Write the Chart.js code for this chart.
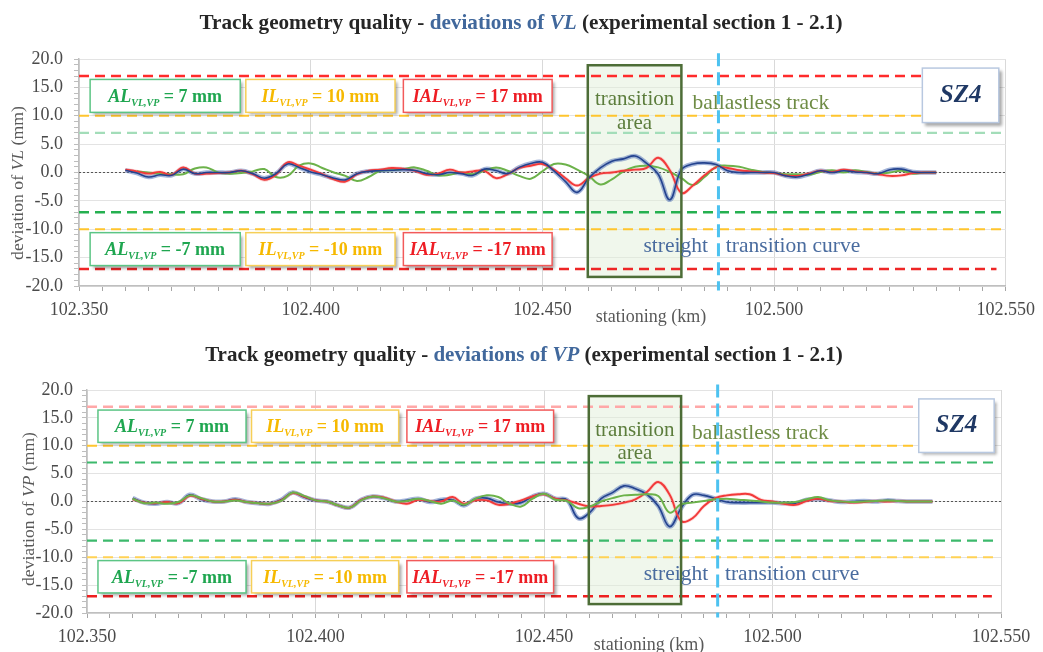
<!DOCTYPE html>
<html>
<head>
<meta charset="utf-8">
<title>Track geometry quality</title>
<script src="https://cdn.jsdelivr.net/npm/chart.js@4.4.1/dist/chart.umd.min.js"></script>
<style>
html,body{margin:0;padding:0;background:#ffffff;overflow:hidden;}
#wrap{position:relative;width:1043px;height:652px;background:#fff;}
#wrap canvas{position:absolute;left:0;}
#vl{top:0;}
#vp{top:330px;}
</style>
</head>
<body>
<div id="wrap">
<canvas id="vl" width="1043" height="330"></canvas>
<canvas id="vp" width="1043" height="322"></canvas>
</div>
<script>
// ---------------- DATA ----------------
const stationing = [
 102.3600,102.3625,102.3650,102.3675,102.3700,102.3725,102.3750,102.3775,102.3800,102.3825,
 102.3850,102.3875,102.3900,102.3925,102.3950,102.3975,102.4000,102.4025,102.4050,102.4075,
 102.4100,102.4125,102.4150,102.4175,102.4200,102.4225,102.4250,102.4275,102.4300,102.4325,
 102.4350,102.4375,102.4400,102.4425,102.4450,102.4475,102.4500,102.4525,102.4550,102.4575,
 102.4600,102.4625,102.4650,102.4675,102.4700,102.4725,102.4750,102.4775,102.4800,102.4825,
 102.4850,102.4875,102.4900,102.4925,102.4950,102.4975,102.5000,102.5025,102.5050,102.5075,
 102.5100,102.5125,102.5150,102.5175,102.5200,102.5225,102.5250,102.5275,102.5300,102.5325,
 102.5350];

// deviations of VL (mm)
const vlBlue = [
 0.4,-0.1,-0.8,-0.4,-0.5,0.6,-0.2,0.0,0.0,0.0,
 0.3,-0.2,-1.0,-0.2,1.5,0.9,0.1,-0.4,-1.0,-1.3,
 -0.2,0.2,0.3,0.4,0.5,0.35,-0.2,-0.4,0.0,-0.2,
 -0.5,0.6,0.35,-0.2,0.9,1.6,1.8,0.3,-1.6,-3.5,
 -1.0,0.8,2.0,2.4,2.9,1.6,-0.3,-4.8,0.5,1.5,
 1.7,1.4,0.3,0.0,0.0,0.0,0.0,-0.6,-0.8,-0.3,
 0.3,0.0,0.3,0.1,0.0,-0.2,0.5,0.6,0.1,0.0,
 0.0];
const vlRed = [
 0.5,0.2,-0.2,0.1,-0.4,0.9,-0.2,-0.2,-0.1,0.0,
 0.3,-0.3,-1.3,-0.4,1.8,1.2,0.5,-0.3,-1.2,-1.6,
 -0.3,0.3,0.5,0.8,0.65,0.3,-0.4,-0.2,0.5,0.0,
 0.2,0.3,-1.0,-0.3,0.8,1.2,1.5,0.5,-1.0,-2.3,
 -1.0,-0.2,0.0,0.3,0.5,0.8,2.6,0.4,-3.6,-2.3,
 -0.5,0.9,0.8,0.4,0.2,0.0,-0.1,-0.5,-0.6,-0.2,
 0.3,0.1,0.5,0.2,0.0,-0.3,-0.6,-0.5,-0.1,0.0,
 0.0];
const vlGreen = [
 null,0.2,0.0,-0.2,-0.3,-0.3,0.7,0.9,0.0,-0.2,
 -0.1,0.2,0.6,-0.8,-0.6,1.2,1.6,0.8,0.0,-0.6,
 -1.5,-0.8,0.3,0.4,0.6,0.9,0.3,-0.5,-0.4,0.0,
 -0.3,0.3,0.9,0.3,-0.6,-1.1,0.2,1.5,1.4,0.5,
 -0.6,-2.1,-1.2,0.2,1.0,1.2,0.9,0.1,-1.0,-2.2,
 -0.8,1.0,1.2,1.0,0.5,0.1,-0.1,-0.3,-0.3,-0.4,
 0.1,0.4,0.0,0.4,0.1,-0.2,0.0,0.3,-0.2,0.0,
 0.0];

// deviations of VP (mm)
const vpBlue = [
 0.6,-0.2,-0.4,-0.1,-0.3,1.2,0.4,0.0,0.0,0.4,
 -0.1,-0.3,-0.4,0.3,1.6,0.8,0.2,0.0,-0.7,-1.1,
 0.3,0.9,0.6,0.0,0.2,0.5,-0.1,0.3,0.3,-0.7,
 0.5,0.6,-0.1,-0.4,-0.2,0.9,1.4,0.5,0.3,-3.0,
 -2.0,0.5,1.6,2.8,2.3,1.3,-0.8,-4.5,-1.2,1.2,
 1.1,0.5,-0.1,-0.2,-0.2,-0.2,-0.2,-0.3,-0.3,0.3,
 0.4,0.2,-0.1,0.0,0.1,0.0,0.2,0.1,0.0,0.0,
 0.0];
const vpRed = [
 0.4,-0.2,-0.3,-0.1,-0.3,1.0,0.5,0.0,0.0,0.3,
 -0.1,-0.3,-0.4,0.2,1.5,0.9,0.2,0.0,-0.7,-1.1,
 0.3,0.9,0.7,0.0,-0.4,0.3,0.1,0.0,0.8,-0.4,
 0.2,0.2,-0.6,-0.4,0.2,0.9,1.3,0.5,0.2,-0.4,
 -0.9,-0.8,-0.6,-0.2,0.4,1.7,3.5,1.2,-3.5,-3.0,
 -0.8,0.6,1.1,1.3,1.3,0.3,0.0,-0.4,-0.6,0.1,
 0.5,0.1,0.0,-0.2,-0.1,0.1,0.0,0.1,0.0,0.0,
 0.0];
const vpGreen = [
 0.5,-0.3,-0.2,-0.4,-0.1,1.1,0.6,0.0,0.0,0.2,
 -0.1,-0.3,-0.4,0.1,1.6,1.0,0.2,0.0,-0.7,-1.1,
 0.2,0.9,0.6,0.0,0.1,0.5,0.1,-0.4,0.2,-0.6,
 0.5,1.1,0.8,-0.4,-0.9,0.5,1.4,0.3,0.1,-1.2,
 -0.9,0.0,0.6,1.1,1.2,1.3,1.0,-2.0,-0.5,-0.2,
 0.1,0.4,0.5,0.3,0.2,0.0,-0.2,-0.2,-0.1,0.4,
 0.8,0.2,0.0,-0.1,0.0,0.1,0.2,0.1,0.0,0.0,
 0.0];

// limits (mm)
const limitNames = ['AL', 'IL', 'IAL'];
const limitValues = [7, 10, 17];
const limitLines = [17, 10, 7, -7, -10, -17];
const xTickRange = [102.350, 102.550];
const yTickRange = [-20, 20];
const transitionArea = [102.4598, 102.4800];
const transitionAreaY = [18.9, -18.4];
const curveStart = 102.488;
const curveLineY = [21.0, -20.8];

// ---------------- DRAWING ----------------
const SERIF = '"Liberation Serif", "DejaVu Serif", serif';

function setFont(ctx, p, k) {
  ctx.font = (p.style || 'normal') + ' ' + (p.size * k).toFixed(2) + 'px ' + SERIF;
}
function drawRich(ctx, parts, x, y, align, baseline, targetWidth) {
  let k = 1;
  const measure = () => { let w = 0; parts.forEach(p => { setFont(ctx, p, k); w += ctx.measureText(p.t).width; }); return w; };
  let total = measure();
  if (targetWidth) { k = targetWidth / total; total = measure(); }
  let cx = align === 'center' ? x - total / 2 : (align === 'right' ? x - total : x);
  ctx.textAlign = 'left';
  ctx.textBaseline = baseline || 'alphabetic';
  parts.forEach(p => {
    setFont(ctx, p, k);
    ctx.fillStyle = p.color;
    ctx.fillText(p.t, cx, y + (p.dy || 0) * k);
    cx += ctx.measureText(p.t).width;
  });
}

const boxStyles = [
  {border: '#5cc585', text: '#1fa650'},
  {border: '#f6cf58', text: '#f6b900'},
  {border: '#f25a5a', text: '#ee1d24'}
];
const boxX = [[102.3524, 102.3848], [102.3860, 102.4182], [102.4200, 102.4521]];
const boxRows = [[16.4, 10.6], [-10.6, -16.4]];
const sz4Box = [102.5320, 102.5485, 18.4, 8.8];

const decorConfigs = {};

function shadowBox(ctx, l, t, w, h, border, lw) {
  ctx.save();
  ctx.shadowColor = 'rgba(0,0,0,0.35)';
  ctx.shadowBlur = 3;
  ctx.shadowOffsetX = 3;
  ctx.shadowOffsetY = 3;
  ctx.fillStyle = '#ffffff';
  ctx.fillRect(l, t, w, h);
  ctx.restore();
  ctx.save();
  ctx.strokeStyle = border;
  ctx.lineWidth = lw;
  ctx.strokeRect(l, t, w, h);
  ctx.restore();
}

const decorPlugin = {
  id: 'decor',
  beforeDatasetsDraw(chart) {
    const ctx = chart.ctx, xs = chart.scales.x, ys = chart.scales.y;
    const l = xs.getPixelForValue(transitionArea[0]), r = xs.getPixelForValue(transitionArea[1]);
    const t = ys.getPixelForValue(transitionAreaY[0]), b = ys.getPixelForValue(transitionAreaY[1]);
    ctx.save();
    ctx.fillStyle = 'rgba(226,240,217,0.5)';
    ctx.fillRect(l, t, r - l, b - t);
    ctx.restore();
  },
  afterDatasetsDraw(chart) {
    const ctx = chart.ctx, xs = chart.scales.x, ys = chart.scales.y;
    const l = xs.getPixelForValue(transitionArea[0]), r = xs.getPixelForValue(transitionArea[1]);
    const t = ys.getPixelForValue(transitionAreaY[0]), b = ys.getPixelForValue(transitionAreaY[1]);
    ctx.save();
    ctx.strokeStyle = '#4d6d37';
    ctx.lineWidth = 2.5;
    ctx.strokeRect(l, t, r - l, b - t);
    ctx.restore();

    boxRows.forEach((row, ri) => {
      const sign = ri === 0 ? '' : '-';
      const top = ys.getPixelForValue(row[0]), bot = ys.getPixelForValue(row[1]);
      boxX.forEach((bx, bi) => {
        const bl = xs.getPixelForValue(bx[0]), br = xs.getPixelForValue(bx[1]);
        const st = boxStyles[bi];
        shadowBox(ctx, bl, top, br - bl, bot - top, st.border, 1.5);
        drawRich(ctx, [
          {t: limitNames[bi], style: 'italic bold', size: 18, color: st.text},
          {t: 'VL,VP', style: 'italic bold', size: 10, color: st.text, dy: 4},
          {t: ' = ' + sign + limitValues[bi] + ' mm', style: 'bold', size: 18, color: st.text}
        ], (bl + br) / 2, (top + bot) / 2 + 6, 'center');
      });
    });

    const sl = xs.getPixelForValue(sz4Box[0]), sr = xs.getPixelForValue(sz4Box[1]);
    const stp = ys.getPixelForValue(sz4Box[2]), sb = ys.getPixelForValue(sz4Box[3]);
    shadowBox(ctx, sl, stp, sr - sl, sb - stp, '#b8c8e0', 1.5);
    drawRich(ctx, [{t: 'SZ4', style: 'italic bold', size: 25, color: '#1f3864'}],
      (sl + sr) / 2, (stp + sb) / 2, 'center', 'middle');

    const green = '#5c7d3c', steel = '#4a6c9f';
    const cx = xs.getPixelForValue((transitionArea[0] + transitionArea[1]) / 2);
    drawRich(ctx, [{t: 'transition', size: 21, color: green}], cx, ys.getPixelForValue(12.8), 'center', 'middle');
    drawRich(ctx, [{t: 'area', size: 21, color: green}], cx, ys.getPixelForValue(8.7), 'center', 'middle');
    drawRich(ctx, [{t: 'ballastless track', size: 21.5, color: '#6f8c45'}], xs.getPixelForValue(102.4824), ys.getPixelForValue(12.2), 'left', 'middle');
    drawRich(ctx, [{t: 'streight', size: 21.5, color: steel}], xs.getPixelForValue(102.4718), ys.getPixelForValue(-13.0), 'left', 'middle');
    drawRich(ctx, [{t: 'transition curve', size: 21.5, color: steel}], xs.getPixelForValue(102.4896), ys.getPixelForValue(-13.0), 'left', 'middle');
  },
  afterDraw(chart) {
    const d = decorConfigs[chart.canvas.id];
    const ctx = chart.ctx;
    drawRich(ctx, [
      {t: 'Track geometry quality - ', style: 'bold', size: 18, color: '#262626'},
      {t: 'deviations of ', style: 'bold', size: 18, color: '#41689c'},
      {t: d.quantity, style: 'italic bold', size: 18, color: '#41689c'},
      {t: ' (experimental section 1 - 2.1)', style: 'bold', size: 18, color: '#262626'}
    ], d.titleX, d.titleY, 'center', 'alphabetic', d.titleW);
    ctx.save();
    ctx.translate(d.yTitleX, d.yTitleY);
    ctx.rotate(-Math.PI / 2);
    drawRich(ctx, [
      {t: 'deviation of ', size: 17, color: '#595959'},
      {t: d.quantity, style: 'italic', size: 17, color: '#595959'},
      {t: ' (mm)', size: 17, color: '#595959'}
    ], 0, 0, 'center', 'middle', 154);
    ctx.restore();
    drawRich(ctx, [{t: 'stationing (km)', size: 18, color: '#595959'}], d.xTitleX, d.xTitleY, 'center', 'alphabetic');
  }
};

const isMajorX = v => Math.abs(Math.round(v * 1000)) % 50 === 0;
const isMajorY = v => Math.round(v) % 5 === 0;

function series(values) {
  return stationing.map((x, i) => ({x: x, y: values[i]}));
}

function buildChart(id, cfg) {
  decorConfigs[id] = cfg;
  const ds = [];
  ds.push({data: [{x: curveStart, y: curveLineY[0]}, {x: curveStart, y: curveLineY[1]}],
    borderColor: '#4dc2f0', borderWidth: 3, borderDash: [13, 6], pointRadius: 0, clip: false, tension: 0});
  cfg.order.forEach(key => {
    const s = cfg.series[key];
    if (key === 'blue') {
      ds.push({data: series(s), borderColor: '#24438f', borderWidth: 1.6, pointRadius: 0, tension: 0.4});
    } else if (key === 'red') {
      ds.push({data: series(s), borderColor: '#f23a3a', borderWidth: 1.9, pointRadius: 0, tension: 0.4});
    } else {
      ds.push({data: series(s), borderColor: '#6cb24a', borderWidth: 2, pointRadius: 0, tension: 0.4});
    }
  });
  ds.push({data: series(cfg.series.red), borderColor: 'rgba(255,120,120,0.3)', borderWidth: 3.5, pointRadius: 0, tension: 0.4});
  ds.push({data: series(cfg.series.blue), borderColor: 'rgba(90,120,185,0.55)', borderWidth: 4.5, pointRadius: 0, tension: 0.4});
  ds.push({data: [{x: xTickRange[0], y: 0}, {x: xTickRange[1], y: 0}], borderColor: '#555555', borderWidth: 1, borderDash: [2, 2], pointRadius: 0, tension: 0});
  limitLines.forEach((v, i) => {
    const st = cfg.limitStyles[i];
    ds.push({data: [{x: xTickRange[0], y: v}, {x: st.end, y: v}], borderColor: st.color, borderWidth: st.w, borderDash: [10, 6], pointRadius: 0, tension: 0});
  });

  new Chart(document.getElementById(id), {
    type: 'line',
    data: {datasets: ds},
    plugins: [decorPlugin],
    options: {
      responsive: false, animation: false, devicePixelRatio: 1,
      layout: {padding: {left: 0, right: cfg.padRight, top: cfg.padTop, bottom: 0}},
      plugins: {legend: {display: false}, tooltip: {enabled: false}, title: {display: false}},
      elements: {point: {radius: 0}},
      scales: {
        x: {
          type: 'linear', min: xTickRange[0], max: xTickRange[1],
          afterFit(s) { s.height = cfg.xAxisH; },
          ticks: {stepSize: 0.005, precision: 3, autoSkip: false, maxRotation: 0, minRotation: 0, padding: 8,
            color: '#4a4a4a', font: {family: SERIF, size: 18},
            callback: v => isMajorX(v) ? Number(v).toFixed(3) : ''},
          grid: {color: c => (c.tick && isMajorX(c.tick.value)) ? '#d9d9d9' : 'rgba(0,0,0,0)',
            tickColor: '#a6a6a6', tickLength: 5},
          border: {color: '#bfbfbf', width: 1.5}
        },
        y: {
          type: 'linear', min: yTickRange[0], max: yTickRange[1],
          afterFit(s) { s.width = cfg.yAxisW; },
          ticks: {stepSize: 1, precision: 0, autoSkip: false, padding: cfg.yPad,
            color: '#4a4a4a', font: {family: SERIF, size: 18},
            callback: v => isMajorY(v) ? Number(v).toFixed(1) : ''},
          grid: {color: c => (c.tick && isMajorY(c.tick.value)) ? '#e3e3e3' : 'rgba(0,0,0,0)',
            tickColor: '#bdbdbd', tickLength: 5},
          border: {color: '#bfbfbf', width: 1.5}
        }
      }
    }
  });
}

buildChart('vl', {
  quantity: 'VL',
  series: {blue: vlBlue, red: vlRed, green: vlGreen},
  order: ['blue', 'red', 'green'],
  padTop: 59, padRight: 33, xAxisH: 44, yAxisW: 79, yPad: 11,
  titleX: 521, titleY: 29, titleW: 643,
  yTitleX: 18, yTitleY: 183, xTitleX: 651, xTitleY: 322,
  limitStyles: [
    {color: '#ff2b2b', w: 2.6, end: 102.532},
    {color: '#ffc52e', w: 2, end: 102.532},
    {color: '#a3ddb9', w: 2.2, end: 102.549},
    {color: '#25b050', w: 2.5, end: 102.549},
    {color: '#ffc52e', w: 2, end: 102.549},
    {color: '#ee2626', w: 2.5, end: 102.548}
  ]
});

buildChart('vp', {
  quantity: 'VP',
  series: {blue: vpBlue, red: vpRed, green: vpGreen},
  order: ['green', 'red', 'blue'],
  padTop: 60, padRight: 42, xAxisH: 39, yAxisW: 87, yPad: 9,
  titleX: 524, titleY: 31, titleW: 638,
  yTitleX: 29, yTitleY: 179, xTitleX: 649, xTitleY: 320,
  limitStyles: [
    {color: '#ffa8a8', w: 2.5, end: 102.531},
    {color: '#ffc52e', w: 2, end: 102.531},
    {color: '#3cb96c', w: 2.2, end: 102.549},
    {color: '#3cb96c', w: 2.2, end: 102.549},
    {color: '#ffd255', w: 2, end: 102.549},
    {color: '#ee2020', w: 2.6, end: 102.548}
  ]
});
</script>
</body>
</html>
